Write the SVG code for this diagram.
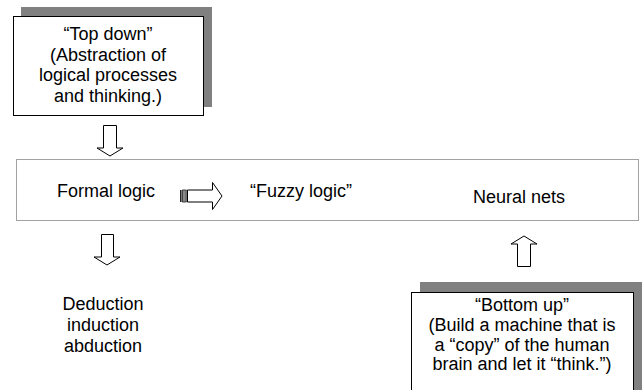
<svg xmlns="http://www.w3.org/2000/svg" width="642" height="390" viewBox="0 0 642 390">
  <style>
    text { font-family: "Liberation Sans", Arial, sans-serif; font-size: 18px; fill: #000; text-anchor: middle; }
    .start { text-anchor: start; }
    .shadow { fill: #808080; }
    .box { fill: #fff; stroke: #000; stroke-width: 1; }
    .frame { fill: none; stroke: #444; stroke-width: 1; stroke-dasharray: 1 1; }
    .arrow { fill: #fff; stroke: #000; stroke-width: 1; stroke-linejoin: miter; }
  </style>

  <!-- dotted band holding the three approaches -->
  <g id="band">
    <rect class="frame" x="16.5" y="159.5" width="622" height="61"/>
  </g>

  <!-- top-down approach -->
  <g id="top-down">
    <rect class="shadow" x="21" y="7" width="191" height="100"/>
    <rect class="box" x="13.5" y="16.5" width="190" height="99"/>
    <text x="108" y="39.5">“Top down”</text>
    <text x="108" y="60.5">(Abstraction of</text>
    <text x="108" y="81.2">logical processes</text>
    <text x="108" y="101.9">and thinking.)</text>
  </g>

  <g id="formal-logic">
    <text class="start" x="57" y="197">Formal logic</text>
  </g>

  <g id="fuzzy-logic">
    <text class="start" x="250" y="197">“Fuzzy logic”</text>
  </g>

  <g id="neural-nets">
    <text x="519" y="203">Neural nets</text>
  </g>

  <g id="reasoning">
    <text x="103" y="310">Deduction</text>
    <text x="103" y="331">induction</text>
    <text x="103" y="352">abduction</text>
  </g>

  <!-- bottom-up approach -->
  <g id="bottom-up">
    <rect class="shadow" x="420" y="282" width="222" height="108"/>
    <rect class="box" x="411.5" y="292.5" width="222" height="100"/>
    <text x="522" y="311">“Bottom up”</text>
    <text x="522" y="331">(Build a machine that is</text>
    <text x="522" y="350.5">a “copy” of the human</text>
    <text x="522" y="370">brain and let it “think.”)</text>
  </g>

  <!-- block arrows -->
  <g id="connectors">
    <polygon class="arrow" points="103.5,125.5 116.5,125.5 116.5,148 123,148 110,156 97,148 103.5,148"/>
    <polygon class="arrow" points="101.5,234.5 113.5,234.5 113.5,257 120,257 107,265 94,257 101.5,257"/>
    <polygon class="arrow" points="517.5,266.5 530.5,266.5 530.5,244 537,244 524,236 511,244 517.5,244"/>
    <rect x="180" y="190" width="1.6" height="12" fill="#222"/>
    <rect x="182.6" y="190" width="3.6" height="12" fill="#888" stroke="#222" stroke-width="0.8"/>
    <polygon class="arrow" points="187.5,190 212.5,190 212.5,182.5 222,196 212.5,209.5 212.5,202 187.5,202"/>
  </g>
</svg>
